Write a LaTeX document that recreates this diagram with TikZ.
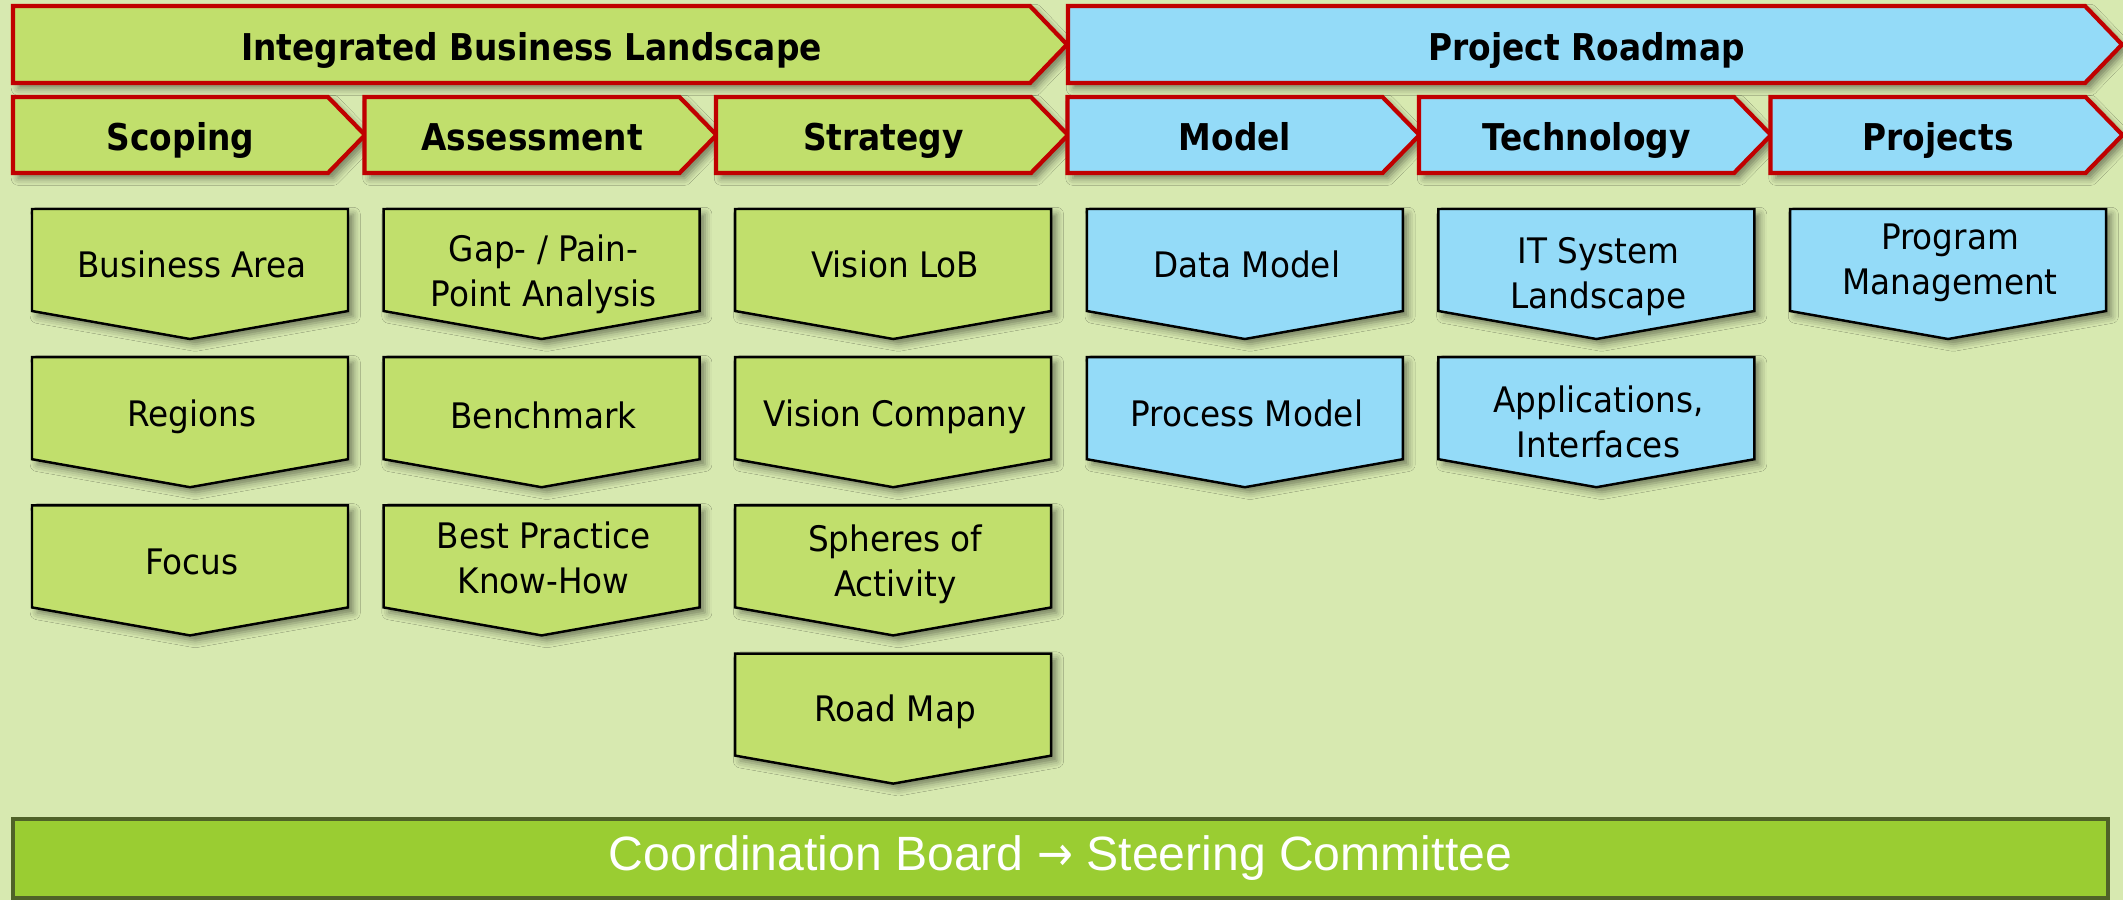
\documentclass[tikz,border=0pt]{standalone}
\usepackage{fontspec}
\setmainfont{DejaVu Sans}[FakeStretch=0.89]
\newfontfamily\taskfont{DejaVu Sans}[FakeStretch=0.93]
\newfontfamily\barfont{Liberation Sans}
\usepackage{tikz}
\usetikzlibrary{shadows.blur}
\definecolor{PageGreen}{RGB}{215,233,176}
\definecolor{LeafGreen}{RGB}{193,223,108}
\definecolor{SkyBlue}{RGB}{148,219,248}
\definecolor{ChevRed}{RGB}{192,0,0}
\definecolor{BoardGreen}{RGB}{154,205,50}
\definecolor{BoardLine}{RGB}{79,98,40}

\tikzset{
  phase/.style={draw=ChevRed, line width=1.2pt, line join=miter,
    blur shadow={shadow xshift=1.5pt, shadow yshift=-1.5pt, shadow blur radius=2pt, shadow opacity=45}},
  phasetext/.style={font=\fontsize{10.5}{12}\selectfont\bfseries, text height=0.75em, text depth=0.25em},
  task/.style={draw=black, line width=0.7pt,
    blur shadow={shadow xshift=1.5pt, shadow yshift=-1.5pt, shadow blur radius=2pt, shadow opacity=45}},
  tasktext/.style={font=\taskfont\fontsize{10}{12.8}\selectfont, align=center},
  board/.style={draw=BoardLine, fill=BoardGreen, line width=1.1pt, text=white,
    minimum width=20.95cm, minimum height=0.79cm, inner sep=0pt,
    font=\barfont\fontsize{13.7}{16}\selectfont}
}

\begin{document}
\begin{tikzpicture}
    \fill[PageGreen] (0,0) rectangle (21.23,-9);
    \useasboundingbox (0,0) rectangle (21.23,-9);

    % Phasen oben
    \foreach \xa/\fc/\name/\txt in {0.13/LeafGreen/ibl/Integrated Business Landscape, 10.68/SkyBlue/prm/Project Roadmap}{
        \draw[phase, fill=\fc] (\xa,-0.06) -- ++(10.17,0) -- ++(0.37,-0.385) -- ++(-0.37,-0.385) -- ++(-10.17,0) -- cycle;
        \node[phasetext] (\name) at (\xa+5.185,-0.515) {\txt};
    }

    % Schritte
    \foreach \i/\fc/\name/\txt in {0/LeafGreen/scoping/Scoping, 1/LeafGreen/assess/Assessment, 2/LeafGreen/strat/Strategy,
        3/SkyBlue/model/Model, 4/SkyBlue/tech/Technology, 5/SkyBlue/proj/Projects}{
        \draw[phase, fill=\fc] (0.13+3.515*\i,-0.97) -- ++(3.15,0) -- ++(0.37,-0.38) -- ++(-0.37,-0.38) -- ++(-3.15,0) -- cycle;
        \node[phasetext] (\name) at (0.13+3.515*\i+1.675,-1.42) {\txt};
    }

    % Inhalte je Spalte
    \foreach \c/\r/\name/\fc/\dy/\txt in {
        0/0/barea/LeafGreen/0.55/Business Area,
        0/1/regions/LeafGreen/0.60/Regions,
        0/2/focus/LeafGreen/0.57/Focus,
        1/0/gap/LeafGreen/0.65/{Gap- / Pain-\\Point Analysis},
        1/1/bench/LeafGreen/0.58/Benchmark,
        1/2/bestpr/LeafGreen/0.52/{Best Practice\\Know-How},
        2/0/vlob/LeafGreen/0.55/Vision LoB,
        2/1/vcomp/LeafGreen/0.60/Vision Company,
        2/2/spheres/LeafGreen/0.59/{Spheres of\\Activity},
        2/3/roadmap/LeafGreen/0.58/Road Map,
        3/0/datamod/SkyBlue/0.55/Data Model,
        3/1/procmod/SkyBlue/0.56/Process Model,
        4/0/itsys/SkyBlue/0.68/{IT System\\Landscape},
        4/1/apps/SkyBlue/0.65/{Applications,\\Interfaces},
        5/0/progmgmt/SkyBlue/0.54/{Program\\Management}}{
        \draw[task, fill=\fc] (0.32+3.516*\c,-2.09-1.482*\r) -- ++(3.16,0) -- ++(0,-1.02) -- ++(-1.58,-0.28) -- ++(-1.58,0.28) -- cycle;
        \node[tasktext] (\name) at (0.32+3.516*\c+1.6,-2.09-1.482*\r-\dy) {\txt};
    }

    % Gremium
    \node[board] (steer) at (10.605,-8.585) {Coordination Board {\normalfont →} Steering Committee};
\end{tikzpicture}
\end{document}
